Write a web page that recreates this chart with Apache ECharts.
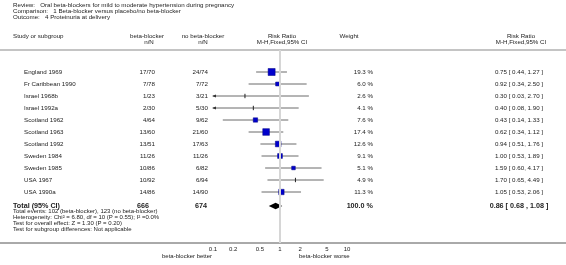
<!DOCTYPE html>
<html>
<head>
<meta charset="utf-8">
<script src="https://cdn.jsdelivr.net/npm/echarts@6/dist/echarts.min.js"></script>
<style>
  html, body { margin: 0; padding: 0; background: #fff; }
  #main { width: 566px; height: 265px; }
</style>
</head>
<body>
<div id="main"></div>
<script>
// study rows
const studies = ['England 1969', 'Fr Caribbean 1990', 'Israel 1968b', 'Israel 1992a', 'Scotland 1962',
  'Scotland 1963', 'Scotland 1992', 'Sweden 1984', 'Sweden 1985', 'USA 1967', 'USA 1990a'];
const betaBlocker = ['17/70', '7/78', '1/23', '2/30', '4/64', '13/60', '13/51', '11/26', '10/86', '10/92', '14/86'];
const noBetaBlocker = ['24/74', '7/72', '3/21', '5/30', '9/62', '21/60', '17/63', '11/26', '6/82', '6/94', '14/90'];
const weights = [19.3, 6.0, 2.6, 4.1, 7.6, 17.4, 12.6, 9.1, 5.1, 4.9, 11.3];
const riskRatio = [0.75, 0.92, 0.30, 0.40, 0.43, 0.62, 0.94, 1.00, 1.59, 1.70, 1.05];
const ciLow = [0.44, 0.34, 0.03, 0.08, 0.14, 0.34, 0.51, 0.53, 0.60, 0.65, 0.53];
const ciHigh = [1.27, 2.50, 2.70, 1.90, 1.33, 1.12, 1.76, 1.89, 4.17, 4.49, 2.06];

// pooled result
const totalN = [666, 674];
const totalWeight = 100.0;
const totalRR = [0.86, 0.68, 1.08];

const tickValues = [0.1, 0.2, 0.5, 1, 2, 5, 10];

const titleLines = [
  'Review:   Oral beta-blockers for mild to moderate hypertension during pregnancy',
  'Comparison:   1 Beta-blocker versus placebo/no beta-blocker',
  'Outcome:   4 Proteinuria at delivery'
];
const footLines = [
  'Total events: 102 (beta-blocker), 123 (no beta-blocker)',
  'Heterogeneity: Chi\u00b2 = 6.80, df = 10 (P = 0.55); I\u00b2 =0.0%',
  'Test for overall effect: Z = 1.30 (P = 0.20)',
  'Test for subgroup differences: Not applicable'
];

const FONT = '"Liberation Sans", Arial, sans-serif';
const INK = '#222';
const FS = 6.2;
const TOP = 50, AXIS_Y = 243, ROW0 = 72, ROWH = 12;
const TOTAL_ROW = 11.17;
const yMin = -(ROW0 - TOP) / ROWH;
const yMax = yMin + (AXIS_Y - TOP) / ROWH;

const chart = echarts.init(document.getElementById('main'));

function txt(text, x, y, size, align, bold) {
  return {
    type: 'text', x: x, y: y, silent: true,
    style: {
      text: text, fill: INK, align: align || 'left', verticalAlign: 'middle',
      font: (bold ? 'bold ' : '') + size + 'px ' + FONT
    }
  };
}

// table text, one row per study, placed through the row axis
function renderRow(params, api) {
  const i = api.value(0);
  const y = api.coord([0, i])[1];
  return {
    type: 'group',
    children: [
      txt(studies[i], 24, y, FS),
      txt(betaBlocker[i], 155, y, FS, 'right'),
      txt(noBetaBlocker[i], 208, y, FS, 'right'),
      txt(weights[i].toFixed(1) + ' %', 373, y, FS, 'right'),
      txt(riskRatio[i].toFixed(2) + ' [ ' + ciLow[i].toFixed(2) + ', ' + ciHigh[i].toFixed(2) + ' ]', 519, y, FS, 'center')
    ]
  };
}

function renderTotal(params, api) {
  const y = api.coord([0, api.value(0)])[1];
  return {
    type: 'group',
    children: [
      txt('Total (95% CI)', 13, y, 7.2, 'left', true),
      txt(String(totalN[0]), 149, y, 7.2, 'right', true),
      txt(String(totalN[1]), 207, y, 7.2, 'right', true),
      txt(totalWeight.toFixed(1) + ' %', 373, y, 7.2, 'right', true),
      txt(totalRR[0].toFixed(2) + ' [ ' + totalRR[1].toFixed(2) + ' , ' + totalRR[2].toFixed(2) + ' ]', 519, y, 7.2, 'center', true)
    ]
  };
}

// CI whisker plus weighted box
function renderStudy(params, api) {
  const est = api.value(0), lo = api.value(1), hi = api.value(2), w = api.value(3), row = api.value(4);
  const y = api.coord([1, row])[1];
  const xl = api.coord([Math.max(lo, 0.1), row])[0];
  const xh = api.coord([Math.min(hi, 10), row])[0];
  const xe = api.coord([est, row])[0];
  const children = [{
    type: 'line', shape: { x1: xl, y1: y, x2: xh, y2: y },
    style: { stroke: '#6b6b6b', lineWidth: 1 }
  }];
  if (lo < 0.1) {
    children.push({
      type: 'polygon', shape: { points: [[xl - 1, y], [xl + 3, y - 1.6], [xl + 3, y + 1.6]] },
      style: { fill: '#333' }
    });
  }
  if (w >= 5) {
    const s = 1.6 * Math.sqrt(w);
    children.push({
      type: 'rect', shape: { x: xe - s / 2, y: y - s / 2, width: s, height: s },
      style: { fill: '#0000cc', stroke: '#000080', lineWidth: 0.5 }
    });
  } else {
    children.push({
      type: 'line', shape: { x1: xe, y1: y - 2.2, x2: xe, y2: y + 2.2 },
      style: { stroke: '#222', lineWidth: 1 }
    });
  }
  return { type: 'group', children: children };
}

function renderDiamond(params, api) {
  const row = api.value(3);
  const y = api.coord([1, row])[1];
  const xl = api.coord([api.value(1), row])[0];
  const xh = api.coord([api.value(2), row])[0];
  const xe = api.coord([api.value(0), row])[0];
  return {
    type: 'polygon',
    shape: { points: [[xl, y], [xe, y - 3.2], [xh, y], [xe, y + 3.2]] },
    style: { fill: '#000' }
  };
}

const graphics = [];
titleLines.forEach((t, k) => graphics.push(txt(t, 13, 5.5 + 6 * k, FS)));
graphics.push(txt('Study or subgroup', 13, 36, FS));
graphics.push(txt('beta-blocker', 147, 36, FS, 'center'));
graphics.push(txt('n/N', 149, 42, FS, 'center'));
graphics.push(txt('no beta-blocker', 203, 36, FS, 'center'));
graphics.push(txt('n/N', 203, 42, FS, 'center'));
graphics.push(txt('Risk Ratio', 282, 36, FS, 'center'));
graphics.push(txt('M-H,Fixed,95% CI', 282, 42, FS, 'center'));
graphics.push(txt('Weight', 349, 36, FS, 'center'));
graphics.push(txt('Risk Ratio', 521, 36, FS, 'center'));
graphics.push(txt('M-H,Fixed,95% CI', 521, 42, FS, 'center'));
footLines.forEach((t, k) => graphics.push(txt(t, 13, 211.5 + 6 * k, 6)));
graphics.push(txt('beta-blocker better', 212, 256.5, 6, 'right'));
graphics.push(txt('beta-blocker worse', 299, 256.5, 6, 'left'));
graphics.push({ type: 'line', silent: true, shape: { x1: 0, y1: TOP, x2: 566, y2: TOP }, style: { stroke: '#8a8a8a', lineWidth: 1.2 } });
graphics.push({ type: 'line', silent: true, shape: { x1: 0, y1: AXIS_Y, x2: 566, y2: AXIS_Y }, style: { stroke: '#555', lineWidth: 1 } });

chart.setOption({
  animation: false,
  backgroundColor: '#fff',
  grid: [
    { left: 213, width: 134, top: TOP, height: AXIS_Y - TOP },
    { left: 0, width: 566, top: TOP, height: AXIS_Y - TOP }
  ],
  xAxis: [
    {
      type: 'log', logBase: 10, min: 0.1, max: 10, gridIndex: 0,
      axisLine: { show: false }, axisTick: { show: false }, splitLine: { show: false },
      axisLabel: {
        customValues: tickValues, fontSize: 6, margin: 3, color: INK, fontFamily: FONT,
        formatter: v => String(+Number(v).toPrecision(2))
      }
    },
    { type: 'value', min: 0, max: 566, gridIndex: 1, show: false }
  ],
  yAxis: [
    { type: 'value', inverse: true, min: yMin, max: yMax, gridIndex: 0, show: false },
    { type: 'value', inverse: true, min: yMin, max: yMax, gridIndex: 1, show: false }
  ],
  graphic: graphics,
  series: [
    {
      type: 'custom', xAxisIndex: 1, yAxisIndex: 1, silent: true,
      data: studies.map((s, i) => [i]), encode: { x: -1, y: 0 },
      renderItem: renderRow
    },
    {
      type: 'custom', xAxisIndex: 1, yAxisIndex: 1, silent: true,
      data: [[TOTAL_ROW]], encode: { x: -1, y: 0 },
      renderItem: renderTotal
    },
    {
      type: 'custom', xAxisIndex: 0, yAxisIndex: 0, silent: true, clip: false,
      data: studies.map((s, i) => [riskRatio[i], ciLow[i], ciHigh[i], weights[i], i]),
      encode: { x: 0, y: 4 },
      renderItem: renderStudy,
      markLine: {
        silent: true, symbol: 'none', label: { show: false },
        lineStyle: { color: '#d6d6d6', width: 2, type: 'solid' },
        data: [{ xAxis: 1 }]
      },
      z: 3
    },
    {
      type: 'custom', xAxisIndex: 0, yAxisIndex: 0, silent: true, clip: false,
      data: [[totalRR[0], totalRR[1], totalRR[2], TOTAL_ROW]],
      encode: { x: 0, y: 3 },
      renderItem: renderDiamond,
      z: 3
    }
  ]
});
</script>
</body>
</html>
